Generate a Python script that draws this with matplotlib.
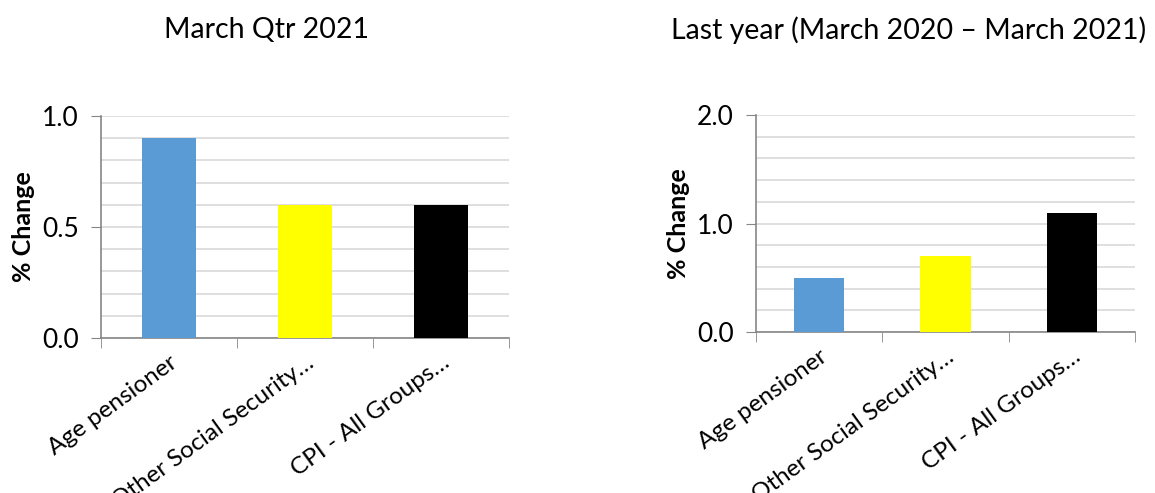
import matplotlib.pyplot as plt
import numpy as np
from matplotlib.ticker import MultipleLocator

plt.rcParams['font.family'] = ['Lato', 'DejaVu Sans']

categories = ['Age pensioner', 'Other Social Security\u2026', 'CPI - All Groups\u2026']
bar_colors = ['#5b9bd5', '#ffff00', '#000000']
qtr_values = [0.9, 0.6, 0.6]
year_values = [0.5, 0.7, 1.1]

W, H = 1155, 493
fig = plt.figure(figsize=(W / 100, H / 100), dpi=100)

# axes boxes in pixels: left, bottom(from top), right, top
panels = [
    ('March Qtr 2021', qtr_values, 1.0, 0.1, 0.5, (101, 338, 509, 116), 266),
    ('Last year (March 2020 \u2013 March 2021)', year_values, 2.0, 0.2, 1.0, (756, 332, 1135, 115), 909),
]

for title, vals, ymax, minor, major, (x0, yb, x1, yt), tx in panels:
    ax = fig.add_axes([x0 / W, (H - yb) / H, (x1 - x0) / W, (yb - yt) / H])
    x = np.arange(len(categories))
    ax.bar(x, vals, width=0.4, color=bar_colors, zorder=3)
    ax.set_xlim(-0.5, len(categories) - 0.5)
    ax.set_ylim(0, ymax)
    ax.yaxis.set_major_locator(MultipleLocator(major))
    ax.yaxis.set_minor_locator(MultipleLocator(minor))
    ax.yaxis.set_major_formatter(plt.FormatStrFormatter('%.1f'))
    ax.grid(True, which='both', axis='y', color='#d9d9d9', linewidth=1.2, zorder=0)
    ax.tick_params(axis='y', which='major', length=7, color='#868686', labelsize=19, pad=9)
    ax.tick_params(axis='y', which='minor', length=0)
    # category boundary ticks on x
    ax.set_xticks(np.arange(len(categories) + 1) - 0.5, minor=True)
    ax.tick_params(axis='x', which='minor', length=7, color='#868686')
    ax.set_xticks(x)
    ax.set_xticklabels(categories, rotation=36, ha='right', rotation_mode='anchor', fontsize=17.5)
    ax.tick_params(axis='x', which='major', length=0, pad=10)
    for s in ['top', 'right']:
        ax.spines[s].set_visible(False)
    for s in ['left', 'bottom']:
        ax.spines[s].set_color('#868686')
        ax.spines[s].set_linewidth(1.2)
    ax.set_ylabel('% Change', fontsize=18, fontweight='bold', labelpad=5)
    fig.text(tx / W, 1 - 30 / H, title, ha='center', va='center', fontsize=20.5)

fig.savefig('out.png', dpi=100)
